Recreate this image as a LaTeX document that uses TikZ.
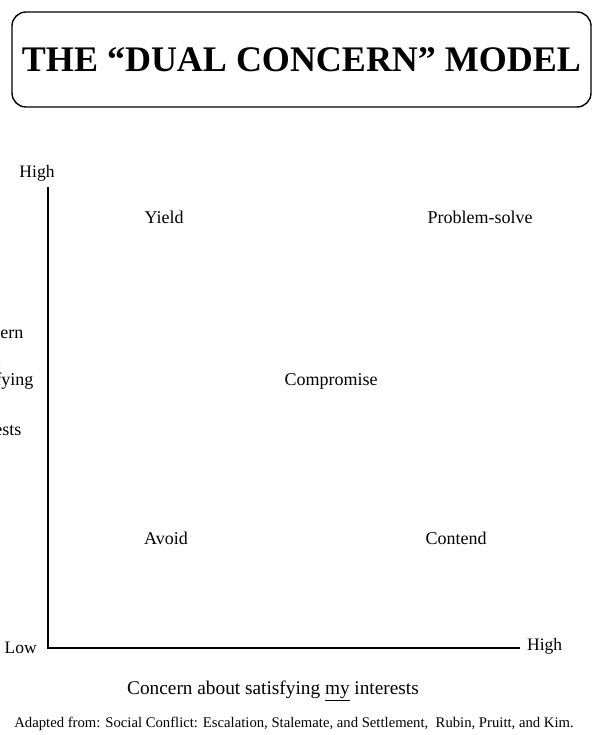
\documentclass[tikz,border=0pt]{standalone}
\usepackage{fontspec}
\setmainfont{Liberation Serif}
\usetikzlibrary{positioning}

\begin{document}
\begin{tikzpicture}[x=1pt, y=-1pt,
    titlebox/.style={draw, rounded corners=14pt, line width=1.4pt, minimum width=579pt, minimum height=95pt, inner sep=0pt, font=\fontsize{36}{40}\selectfont\bfseries},
    axis/.style={line width=2.4pt},
    mode/.style={font=\fontsize{18}{21}\selectfont},
    tick/.style={font=\fontsize{17.5}{20}\selectfont, inner sep=1pt},
]
\useasboundingbox (0,0) rectangle (592,735);
\node[titlebox] (title) at (301.5,59.5) {THE “DUAL CONCERN” MODEL};

\coordinate (origin) at (48,648);
\coordinate (ytop) at (48,187);
\coordinate (xend) at (520,648);
\draw[axis] (ytop) -- (origin) -- (xend);
\node[tick] (yhigh) at (37,173) {High};
\node[tick, left=10pt of origin] (xlow) {Low};
\node[tick, right=6pt of xend, yshift=2pt] (xhigh) {High};

\node[mode] (yield) at (164,217) {Yield};
\node[mode] (solve) at (480,217) {Problem-solve};
\node[mode] (comp) at (331,381) {Compromise};
\node[mode] (avoid) at (166,538) {Avoid};
\node[mode] (contend) at (456,538) {Contend};

\node[mode, anchor=east] (yl1) at (27,333) {Concern};
\node[mode, anchor=east] (yl2) at (4,357) {about};
\node[mode, anchor=east] (yl3) at (37,381) {satisfying};
\node[mode, anchor=east] (yl5) at (25,430) {interests};

\node[font=\fontsize{19.3}{22}\selectfont] (xlabel) at (273,691) {Concern about satisfying \underline{my} interests};
\node[font=\fontsize{14.7}{17}\selectfont] (source) at (294,724) {Adapted from: Social Conflict: Escalation, Stalemate, and Settlement,~ Rubin, Pruitt, and Kim.};
\end{tikzpicture}
\end{document}
